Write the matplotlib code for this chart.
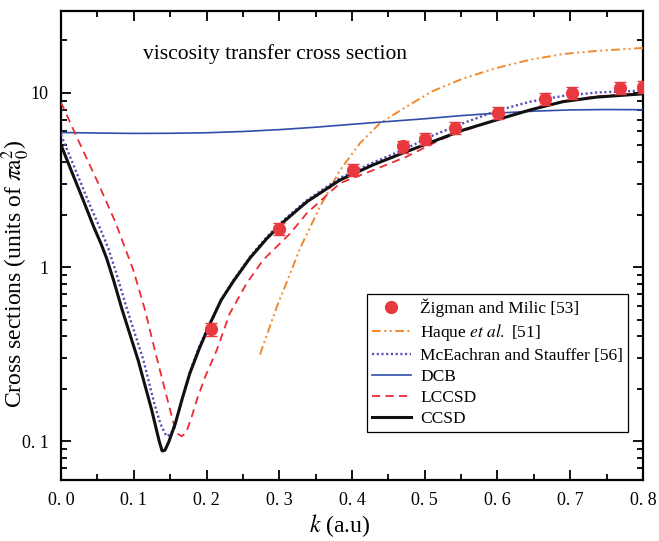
import matplotlib
matplotlib.use("Agg")
import matplotlib.pyplot as plt
from matplotlib.lines import Line2D
from matplotlib.ticker import FixedLocator, FixedFormatter, LogLocator, NullFormatter, MultipleLocator

plt.rcParams["font.family"] = ["Liberation Serif", "DejaVu Serif"]
plt.rcParams["mathtext.fontset"] = "stix"

# Experimental points (Zigman and Milic)
k_exp = [0.206, 0.300, 0.402, 0.470, 0.501, 0.542, 0.601, 0.665, 0.703, 0.768, 0.800]
sig_exp = [0.44, 1.65, 3.61, 4.93, 5.45, 6.27, 7.66, 9.24, 9.96, 10.65, 10.8]
err_frac = 0.08

# Haque et al.
k_haque = [0.2735, 0.2965, 0.315, 0.3285, 0.356, 0.3835, 0.411, 0.4385, 0.475, 0.510,
           0.553, 0.599, 0.645, 0.690, 0.736, 0.800]
sig_haque = [0.315, 0.59, 0.92, 1.28, 2.22, 3.6, 5.14, 6.7, 8.34, 10.2,
             12.1, 13.9, 15.5, 16.7, 17.4, 18.1]

# McEachran and Stauffer
k_mce = [0.0, 0.02, 0.04, 0.055, 0.065, 0.075, 0.0903, 0.113, 0.129, 0.137, 0.145, 0.151,
         0.158, 0.168, 0.177, 0.19, 0.205, 0.22, 0.237, 0.260, 0.283, 0.306, 0.338, 0.3835,
         0.429, 0.475, 0.507, 0.553, 0.599, 0.645, 0.690, 0.736, 0.800]
sig_mce = [5.74, 3.6, 2.25, 1.62, 1.28, 0.95, 0.58, 0.295, 0.16, 0.125, 0.107, 0.11,
           0.13, 0.183, 0.25, 0.35, 0.48, 0.65, 0.84, 1.15, 1.49, 1.86, 2.42, 3.25,
           3.98, 4.8, 5.6, 6.7, 7.9, 8.9, 9.6, 10.04, 10.3]

# DCB
k_dcb = [0.0, 0.05, 0.1, 0.15, 0.2, 0.25, 0.3, 0.35, 0.4, 0.45, 0.5, 0.55, 0.6, 0.65,
         0.7, 0.75, 0.8]
sig_dcb = [5.92, 5.88, 5.85, 5.86, 5.9, 6.0, 6.15, 6.35, 6.6, 6.85, 7.1, 7.4, 7.65, 7.85,
           7.98, 8.02, 8.0]

# LCCSD
k_lccsd = [0.0, 0.025, 0.05, 0.075, 0.0994, 0.1155, 0.129, 0.1406, 0.150, 0.156, 0.161,
           0.166, 0.172, 0.180, 0.1865, 0.198, 0.214, 0.232, 0.255, 0.278, 0.315, 0.338,
           0.3835, 0.429, 0.475, 0.521, 0.553, 0.599, 0.645, 0.690, 0.736, 0.800]
sig_lccsd = [8.8, 5.2, 3.1, 1.8, 0.96, 0.566, 0.333, 0.215, 0.151, 0.121, 0.11,
             0.107, 0.112, 0.14, 0.172, 0.234, 0.333, 0.542, 0.805, 1.10, 1.56, 2.04,
             3.03, 3.6, 4.3, 5.37, 6.05, 7.0, 8.0, 8.95, 9.55, 9.95]

# CCSD
k_ccsd = [0.0, 0.015, 0.03, 0.045, 0.055, 0.0628, 0.073, 0.0834, 0.106, 0.1247, 0.130,
          0.135, 0.139, 0.143, 0.148, 0.157, 0.167, 0.177, 0.19, 0.205, 0.22, 0.237,
          0.260, 0.283, 0.306, 0.338, 0.3835, 0.429, 0.475, 0.521, 0.553, 0.599, 0.645,
          0.690, 0.736, 0.800]
sig_ccsd = [5.02, 3.5, 2.45, 1.70, 1.36, 1.12, 0.82, 0.58, 0.292, 0.151, 0.122,
            0.100, 0.088, 0.089, 0.099, 0.126, 0.178, 0.245, 0.34, 0.475, 0.645, 0.83,
            1.13, 1.46, 1.82, 2.37, 3.16, 3.86, 4.6, 5.45, 6.12, 7.0, 7.98,
            8.9, 9.45, 9.87]

x_ticks = [0.0, 0.1, 0.2, 0.3, 0.4, 0.5, 0.6, 0.7, 0.8]
x_ticklabels = ["0. 0", "0. 1", "0. 2", "0. 3", "0. 4", "0. 5", "0. 6", "0. 7", "0. 8"]
y_ticks = [0.1, 1, 10]
y_ticklabels = ["0. 1", "1", "10"]

c_exp = "#e8393f"
c_haque = "#f0892a"
c_mce = "#5a4cb4"
c_dcb = "#2f4fa8"
c_lccsd = "#ee2b33"
c_ccsd = "#111111"

haque_ls = (0, (4.5, 1.8, 1.0, 1.8, 1.0, 1.8))
mce_ls = (0, (0.9, 1.1))
lccsd_ls = (0, (4.5, 3.0))

fig = plt.figure(figsize=(6.59, 5.41), dpi=100)
ax = fig.add_axes([0.0926, 0.1128, 0.8831, 0.8669])

ax.plot(k_haque, sig_haque, color=c_haque, lw=1.4, linestyle=haque_ls, zorder=3)
ax.plot(k_mce, sig_mce, color=c_mce, lw=1.7, linestyle=mce_ls, zorder=3)
ax.plot(k_dcb, sig_dcb, color=c_dcb, lw=1.2, zorder=3)
ax.plot(k_lccsd, sig_lccsd, color=c_lccsd, lw=1.3, linestyle=lccsd_ls, zorder=4)
ax.plot(k_ccsd, sig_ccsd, color=c_ccsd, lw=2.2, zorder=5)

yerr = [s * err_frac for s in sig_exp]
ax.errorbar(k_exp, sig_exp, yerr=yerr, fmt="none", ecolor=c_exp, elinewidth=1.0,
            capsize=4, capthick=1.0, zorder=6)
ax.plot(k_exp, sig_exp, "o", color=c_exp, markersize=8.5, zorder=7)

ax.set_yscale("log")
ax.set_xlim(0.0, 0.8)
ax.set_ylim(0.06, 29.5)

ax.xaxis.set_major_locator(FixedLocator(x_ticks))
ax.xaxis.set_major_formatter(FixedFormatter(x_ticklabels))
ax.xaxis.set_minor_locator(MultipleLocator(0.05))
ax.yaxis.set_major_locator(FixedLocator(y_ticks))
ax.yaxis.set_major_formatter(FixedFormatter(y_ticklabels))
ax.yaxis.set_minor_locator(LogLocator(base=10, subs=[2, 3, 4, 5, 6, 7, 8, 9], numticks=20))
ax.yaxis.set_minor_formatter(NullFormatter())

ax.tick_params(which="both", direction="in", top=True, right=True, width=1.3)
ax.tick_params(which="major", length=7, labelsize=13, pad=9)
ax.tick_params(which="minor", length=4)
for sp in ax.spines.values():
    sp.set_linewidth(1.6)

ax.set_xlabel(r"$k$ (a.u)", fontsize=17)
ax.xaxis.set_label_coords(0.478, -0.068)
ax.set_ylabel(r"Cross sections (units of $\pi\mathrm{a}_0^2$)", fontsize=17)
ax.yaxis.set_label_coords(-0.05, 0.44)

ax.text(0.141, 0.908, "viscosity transfer cross section", transform=ax.transAxes,
        fontsize=15.5, va="center", ha="left")

handles = [
    Line2D([], [], marker="o", color=c_exp, linestyle="none", markersize=8.5),
    Line2D([], [], color=c_haque, lw=1.4, linestyle=haque_ls),
    Line2D([], [], color=c_mce, lw=1.7, linestyle=mce_ls),
    Line2D([], [], color=c_dcb, lw=1.2),
    Line2D([], [], color=c_lccsd, lw=1.3, linestyle=lccsd_ls),
    Line2D([], [], color=c_ccsd, lw=2.2),
]
labels = [
    "Žigman and Milic [53]",
    r"Haque $et\ al.$ [51]",
    "McEachran and Stauffer [56]",
    "DCB",
    "LCCSD",
    "CCSD",
]
leg = ax.legend(handles, labels, loc="lower right", bbox_to_anchor=(0.974, 0.102),
                fontsize=12.5, frameon=True, fancybox=False, edgecolor="black",
                framealpha=1.0, handlelength=2.3, handletextpad=0.5, labelspacing=0.28,
                borderpad=0.28, borderaxespad=0.0)
leg.get_frame().set_linewidth(0.9)

fig.savefig("out.png", dpi=100)
